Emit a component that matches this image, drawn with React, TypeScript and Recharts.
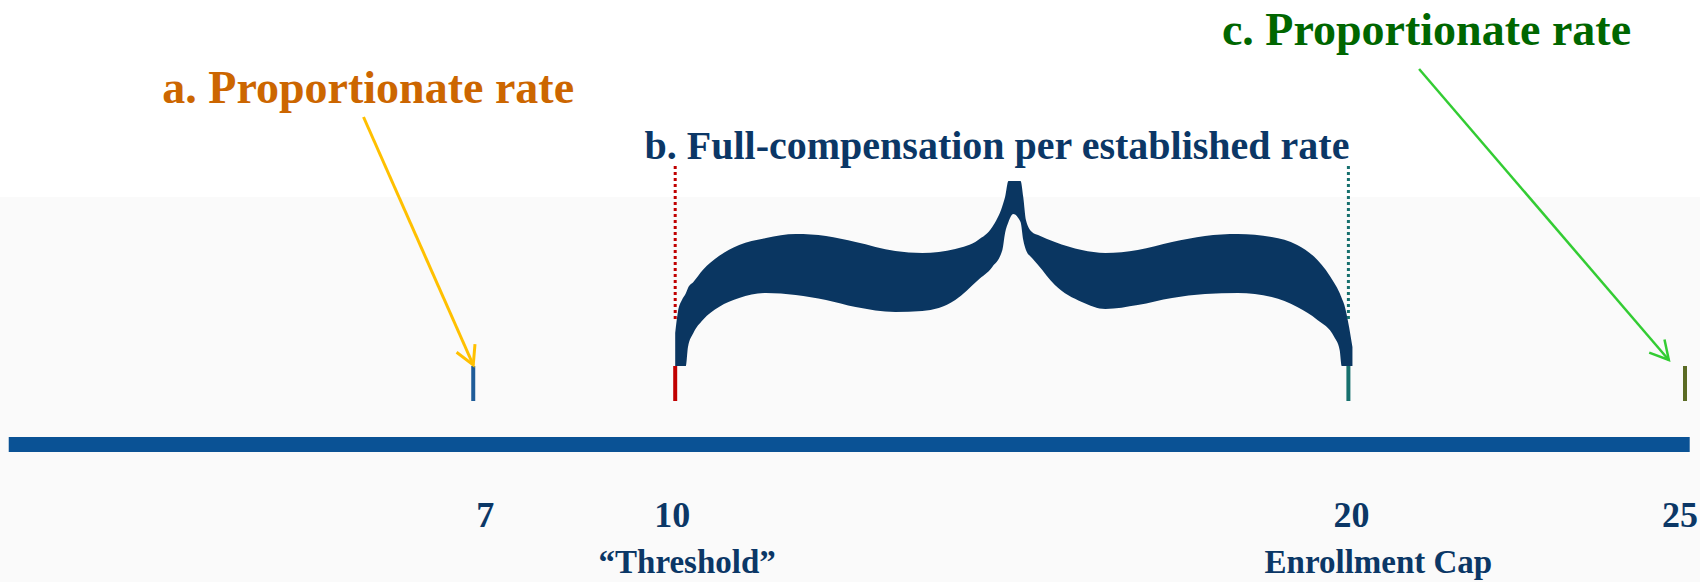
import {
  Area,
  ComposedChart,
  ReferenceDot,
  ReferenceLine,
  XAxis,
  YAxis,
} from "recharts";

// enrollment scale
const tickValues = [7, 10, 20, 25];
const tickLabels = ["7", "10", "20", "25"];
const tickNotes = ["", "\u201CThreshold\u201D", "Enrollment Cap", ""];
const tickColors = ["#1F5C99", "#C00000", "#17706E", "#5B6B24"];

// brace over the full-compensation band (x = enrollment, y = height units)
const braceX = [
  10.0, 10.04, 10.1, 10.16, 10.19, 10.27, 10.41, 10.65, 10.95, 11.35, 11.79,
  12.24, 12.68, 13.27, 13.67, 14.16, 14.5, 14.71, 14.86, 14.9, 14.95, 15.02,
  15.13, 15.17, 15.21, 15.3, 15.39, 15.64, 16.04, 16.39, 16.87, 17.38, 17.87,
  18.36, 18.86, 19.24, 19.54, 19.79, 19.87, 19.9, 19.94, 20.01, 20.06,
];
const braceTop = [
  127, 148, 160, 167, 172, 178, 190, 204, 215, 222, 226, 224, 218, 209, 207,
  211, 220, 233, 254, 263, 279, 279, 279, 263, 240, 228, 225, 218, 210, 207,
  210, 218, 224, 226, 223, 215, 200, 177, 167, 162, 155, 133, 113,
];
const braceBottom = [
  94, 94, 94, 94, 113, 127, 140, 153, 162, 167, 165, 160, 153, 148, 149, 160,
  180, 193, 210, 227, 238, 246, 238, 220, 210, 202, 195, 175, 158, 151, 155,
  162, 166, 167, 163, 153, 140, 123, 110, 94, 94, 94, 94,
];

const braceData = braceX.map((x, i) => ({
  x,
  band: [braceBottom[i], braceTop[i]],
}));

// small marks above the bar, dotted guides and the bar itself
const markHeights = [59, 94];
const guideHeights = [141, 297];
const barRange = [0.1, 25.07];
const barHeight = 15.5;

// callouts
const arrowA = [
  { x: 5.37, y: 343 },
  { x: 7, y: 95 },
];
const arrowC = [
  { x: 21.05, y: 391 },
  { x: 24.76, y: 100 },
];

const serif = "'Liberation Serif', 'DejaVu Serif', serif";
const navy = "#0B3766";

const labelShift = [12, -3, 3, -5];
const noteShift = [0, 12, 30, 0];

function AxisTick(props: any) {
  const { x, y, payload } = props;
  const i = tickValues.indexOf(payload.value);
  if (i < 0) return null;
  return (
    <g>
      <text
        x={x + labelShift[i]}
        y={y + 67}
        textAnchor="middle"
        fill={navy}
        fontFamily={serif}
        fontWeight="bold"
        fontSize={36}
      >
        {tickLabels[i]}
      </text>
      {tickNotes[i] && (
        <text
          x={x + noteShift[i]}
          y={y + 113}
          textAnchor="middle"
          fill={navy}
          fontFamily={serif}
          fontWeight="bold"
          fontSize={33}
        >
          {tickNotes[i]}
        </text>
      )}
    </g>
  );
}

function Arrow(props: any) {
  const { x1, y1, x2, y2, stroke, strokeWidth } = props;
  const ang = Math.atan2(y2 - y1, x2 - x1);
  const len = 21;
  const spread = 0.5;
  const ax = x2 - len * Math.cos(ang - spread);
  const ay = y2 - len * Math.sin(ang - spread);
  const bx = x2 - len * Math.cos(ang + spread);
  const by = y2 - len * Math.sin(ang + spread);
  return (
    <g>
      <line
        x1={x1}
        y1={y1}
        x2={x2}
        y2={y2}
        stroke={stroke}
        strokeWidth={strokeWidth}
      />
      <polyline
        points={`${ax},${ay} ${x2},${y2} ${bx},${by}`}
        fill="none"
        stroke={stroke}
        strokeWidth={strokeWidth}
      />
    </g>
  );
}

function title(text: string, color: string, size: number) {
  return (props: any) => {
    const { viewBox } = props;
    return (
      <text
        x={viewBox.cx ?? viewBox.x}
        y={viewBox.cy ?? viewBox.y}
        textAnchor="middle"
        fill={color}
        fontFamily={serif}
        fontWeight="bold"
        fontSize={size}
      >
        {text}
      </text>
    );
  };
}

export default function App() {
  return (
    <div
      style={{
        width: 1700,
        height: 582,
        background: "linear-gradient(to bottom, #ffffff 197px, #fafafa 197px)",
      }}
    >
      <style>{"body{margin:0}"}</style>
      <ComposedChart
        width={1700}
        height={582}
        margin={{ top: 0, right: 15, bottom: 0, left: 2 }}
      >
        <XAxis
          type="number"
          dataKey="x"
          domain={[0, 25]}
          ticks={tickValues}
          allowDataOverflow
          axisLine={false}
          tickLine={false}
          tickSize={0}
          tickMargin={0}
          height={122}
          tick={<AxisTick />}
          interval={0}
        />
        <YAxis type="number" domain={[0, 460]} hide allowDataOverflow />

        <ReferenceLine
          segment={[
            { x: barRange[0], y: barHeight },
            { x: barRange[1], y: barHeight },
          ]}
          stroke="#0A5295"
          strokeWidth={15}
          ifOverflow="visible"
        />

        {tickValues.map((v, i) => (
          <ReferenceLine
            key={v}
            segment={[
              { x: v, y: markHeights[0] },
              { x: v, y: markHeights[1] },
            ]}
            stroke={tickColors[i]}
            strokeWidth={4}
          />
        ))}

        <ReferenceLine
          segment={[
            { x: 10, y: guideHeights[0] },
            { x: 10, y: guideHeights[1] },
          ]}
          stroke="#C00000"
          strokeWidth={3}
          strokeDasharray="3 3"
        />
        <ReferenceLine
          segment={[
            { x: 20, y: guideHeights[0] },
            { x: 20, y: guideHeights[1] },
          ]}
          stroke="#17706E"
          strokeWidth={3}
          strokeDasharray="3 3"
        />

        <Area
          data={braceData}
          dataKey="band"
          type="monotone"
          stroke="none"
          fill="#0A3661"
          fillOpacity={1}
          isAnimationActive={false}
          activeDot={false}
          dot={false}
        />

        <ReferenceLine
          segment={arrowA}
          stroke="#FFC000"
          strokeWidth={3}
          shape={Arrow}
        />
        <ReferenceLine
          segment={arrowC}
          stroke="#33CC33"
          strokeWidth={2.5}
          shape={Arrow}
        />

        <ReferenceDot
          x={5.44}
          y={357}
          r={0}
          label={title("a. Proportionate rate", "#CC6600", 46)}
        />
        <ReferenceDot
          x={14.78}
          y={301}
          r={0}
          label={title("b. Full-compensation per established rate", navy, 40)}
        />
        <ReferenceDot
          x={21.16}
          y={415}
          r={0}
          label={title("c. Proportionate rate", "#006600", 46)}
        />
      </ComposedChart>
    </div>
  );
}
